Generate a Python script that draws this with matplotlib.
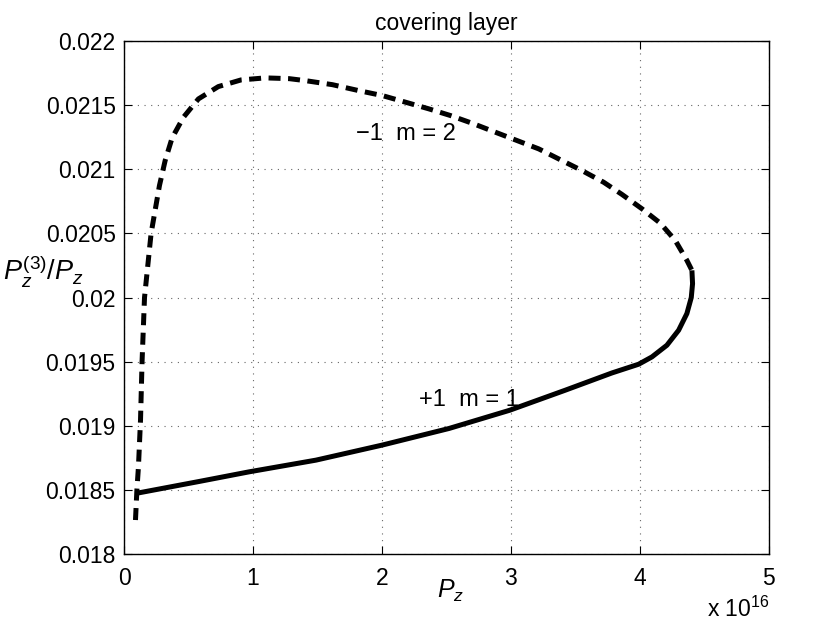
import matplotlib
matplotlib.use("Agg")
import matplotlib.pyplot as plt

plt.rcParams['font.family'] = ['Liberation Sans', 'DejaVu Sans']
plt.rcParams['mathtext.fontset'] = 'custom'
plt.rcParams['mathtext.it'] = 'Liberation Sans:italic'
plt.rcParams['mathtext.rm'] = 'Liberation Sans'

# branch m = 2 (dashed), x in units of 1e16
x_m2 = [0.089, 0.100, 0.112, 0.128, 0.140, 0.159, 0.21, 0.275, 0.319, 0.373,
        0.461, 0.577, 0.731, 0.907, 1.095, 1.281, 1.41, 1.616, 1.823, 2.003,
        2.184, 2.365, 2.532, 2.70, 2.88, 3.048, 3.216, 3.396, 3.551, 3.719,
        3.861, 4.016, 4.158, 4.274, 4.364, 4.403]
y_m2 = [0.018265, 0.0185, 0.01868, 0.019044, 0.0195, 0.02, 0.0205, 0.020874,
        0.021068, 0.021245, 0.021406, 0.021549, 0.021645, 0.021697, 0.021713,
        0.021707, 0.021691, 0.02166, 0.021613, 0.021575, 0.021523, 0.021471,
        0.021419, 0.021359, 0.021289, 0.021224, 0.021159, 0.021068, 0.02099,
        0.020899, 0.020804, 0.020692, 0.02058, 0.020445, 0.02029, 0.020212]

# branch m = 1 (solid)
x_m1 = [4.403, 4.408, 4.398, 4.364, 4.30, 4.209, 4.093, 3.99, 3.783, 3.42,
        2.99, 2.52, 2.0, 1.488, 0.971, 0.584, 0.094]
y_m1 = [0.020212, 0.020108, 0.02, 0.019875, 0.019745, 0.019628, 0.019537,
        0.01948, 0.019412, 0.019277, 0.019121, 0.018979, 0.018849, 0.018732,
        0.018641, 0.018566, 0.018473]

xticks = [0, 1, 2, 3, 4, 5]
yticks = [0.018, 0.0185, 0.019, 0.0195, 0.02, 0.0205, 0.021, 0.0215, 0.022]
yticklabels = ['0.018', '0.0185', '0.019', '0.0195', '0.02', '0.0205',
               '0.021', '0.0215', '0.022']

fig = plt.figure(figsize=(8.3, 6.32), dpi=100)
ax = fig.add_axes([0.1494, 0.1234, 0.777, 0.8116])

ax.plot(x_m2, y_m2, color='black', lw=3.6, dashes=(2.4, 1.5), dash_capstyle='butt')
ax.plot(x_m1, y_m1, color='black', lw=3.6, solid_capstyle='butt', solid_joinstyle='round')

ax.text(2.184, 0.021276, '\u22121  m = 2', fontsize=17, ha='center', va='center')
ax.text(2.674, 0.0192, '+1  m = 1', fontsize=17, ha='center', va='center')

ax.set_xlim(0, 5)
ax.set_ylim(0.018, 0.022)
ax.set_xticks(xticks)
ax.set_yticks(yticks)
ax.set_yticklabels(yticklabels)
ax.tick_params(direction='in', labelsize=16.5, length=6, top=True, right=True)
ax.tick_params(axis='x', pad=9)
ax.tick_params(axis='y', pad=6)
ax.grid(True, linestyle=(0, (1, 5)), color='#666666', linewidth=0.8)
for s in ax.spines.values():
    s.set_linewidth(1.0)

ax.set_title('covering layer', fontsize=16.5, pad=8)
fig.text(0.5262, 0.054, '$P_z$', fontsize=18, ha='left', va='baseline')
fig.text(0.004, 0.556, '$P_z^{(3)}/P_z$', fontsize=19.5, ha='left', va='baseline')
fig.text(0.852, 0.024, r'x 10$^{16}$', fontsize=16.5, ha='left', va='baseline')

fig.savefig('out.png', dpi=100)
